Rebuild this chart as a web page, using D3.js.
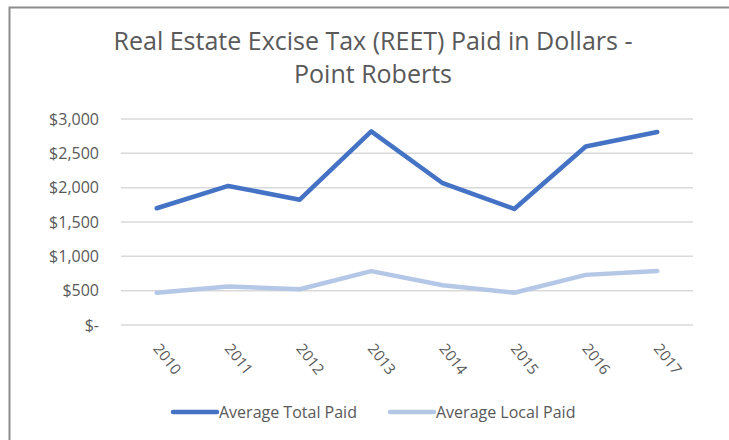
<!DOCTYPE html>
<html>
<head>
<meta charset="utf-8">
<script src="https://cdn.jsdelivr.net/npm/d3@7"></script>
<style>
  body { margin: 0; background: #fff; }
  text { font-family: "Open Sans", sans-serif; fill: #595959; }
</style>
</head>
<body>
<script>
// data
const years = ["2010", "2011", "2012", "2013", "2014", "2015", "2016", "2017"];
const totalPaid = [1700, 2025, 1825, 2820, 2065, 1690, 2600, 2810];
const localPaid = [470, 560, 520, 785, 580, 470, 730, 785];
const yTicks = [0, 500, 1000, 1500, 2000, 2500, 3000];
const seriesNames = ["Average Total Paid", "Average Local Paid"];
const seriesColors = ["#4472c4", "#b4c7e7"];

const width = 729, height = 440;
const margin = {left: 121, right: 36, top: 119, bottom: 115};

const svg = d3.select("body").append("svg")
    .attr("width", width)
    .attr("height", height);

// chart border (right and bottom edges are cropped in the source)
svg.append("rect")
    .attr("x", 9.5).attr("y", 7.5)
    .attr("width", 900).attr("height", 600)
    .attr("fill", "none")
    .attr("stroke", "#8c8c8c")
    .attr("stroke-width", 2);

// title
const title = svg.append("text")
    .attr("x", 373)
    .attr("y", 50)
    .attr("text-anchor", "middle")
    .style("font-size", "25px");
title.append("tspan").attr("x", 373).text("Real Estate Excise Tax (REET) Paid in Dollars -");
title.append("tspan").attr("x", 373).attr("dy", 33).text("Point Roberts");

const xScale = d3.scaleBand()
    .domain(years)
    .range([margin.left, width - margin.right]);

const yScale = d3.scaleLinear()
    .domain([0, 3000])
    .range([height - margin.bottom, margin.top]);

// gridlines
svg.append("g")
    .selectAll("line")
    .data(yTicks)
    .enter()
    .append("line")
    .attr("x1", margin.left)
    .attr("x2", width - margin.right)
    .attr("y1", d => yScale(d))
    .attr("y2", d => yScale(d))
    .attr("stroke", "#d9d9d9")
    .attr("stroke-width", 1.5);

// y labels
const fmt = d => d === 0 ? "$-" : "$" + d3.format(",")(d);
svg.append("g")
    .selectAll("text")
    .data(yTicks)
    .enter()
    .append("text")
    .attr("x", 99)
    .attr("y", d => yScale(d))
    .attr("dy", "0.35em")
    .attr("text-anchor", "end")
    .style("font-size", "16px")
    .text(fmt);

// x labels, rotated
svg.append("g")
    .selectAll("text")
    .data(years)
    .enter()
    .append("text")
    .attr("transform", d => `translate(${xScale(d) + xScale.bandwidth() / 2},${yScale(0) + 20.5}) rotate(52)`)
    .attr("text-anchor", "start")
    .attr("dy", "0.35em")
    .style("font-size", "15px")
    .text(d => d);

const line = d3.line()
    .x((d, i) => xScale(years[i]) + xScale.bandwidth() / 2)
    .y(d => yScale(d));

// light series drawn first, dark on top
[localPaid, totalPaid].forEach((vals, k) => {
    svg.append("path")
        .datum(vals)
        .attr("d", line)
        .attr("fill", "none")
        .attr("stroke", k === 0 ? seriesColors[1] : seriesColors[0])
        .attr("stroke-width", 4.5)
        .attr("stroke-linejoin", "round")
        .attr("stroke-linecap", "round");
});

// legend
const legendX = [173, 390];
const legend = svg.append("g")
    .selectAll("g")
    .data(seriesNames)
    .enter()
    .append("g")
    .attr("transform", (d, i) => `translate(${legendX[i]},412)`);

legend.append("line")
    .attr("x1", 0).attr("x2", 44)
    .attr("stroke", (d, i) => seriesColors[i])
    .attr("stroke-width", 4.5)
    .attr("stroke-linecap", "round");

legend.append("text")
    .attr("x", 46)
    .attr("dy", "0.35em")
    .style("font-size", "16px")
    .text(d => d);
</script>
</body>
</html>
